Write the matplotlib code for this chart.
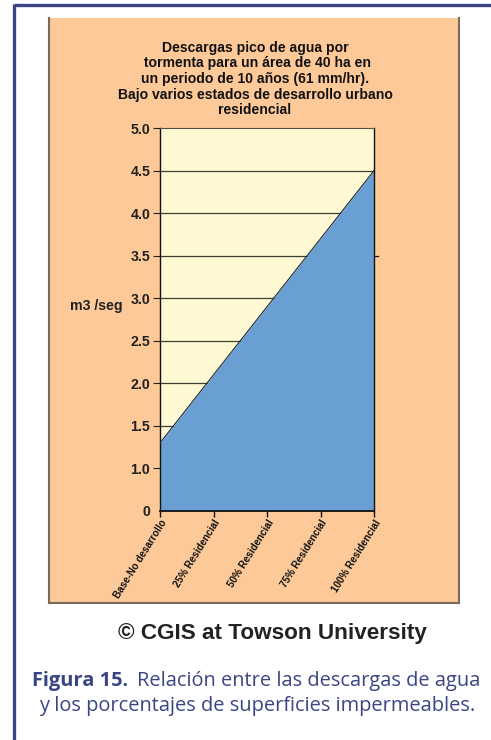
import matplotlib
matplotlib.use("Agg")
import matplotlib.pyplot as plt
from matplotlib.patches import Rectangle
from matplotlib.lines import Line2D

# Data
categories = ["Base-No desarrollo", "25% Residencial", "50% Residencial",
              "75% Residencial", "100% Residencial"]
discharge = [1.3, 2.1, 2.9, 3.7, 4.5]          # m3/seg
y_ticks = [0.5, 1.0, 1.5, 2.0, 2.5, 3.0, 3.5, 4.0, 4.5, 5.0]
y_tick_labels = ["0", "1.0", "1.5", "2.0", "2.5", "3.0", "3.5", "4.0", "4.5", "5.0"]
grid_levels = [1.5, 2.0, 2.5, 3.0, 3.5, 4.0, 4.5]

title = ("Descargas pico de agua por\n tormenta para un área de 40 ha en\n"
         "un periodo de 10 años (61 mm/hr).\nBajo varios estados de desarrollo urbano\n"
         "residencial")

W, H = 491, 740
NAVY = "#3a4583"
ORANGE = "#fdc998"
PALE = "#fff9d3"
BLUE = "#6a9fd4"
EDGE = "#7a6a5c"

plt.rcParams["font.family"] = ["Liberation Sans", "DejaVu Sans"]

fig = plt.figure(figsize=(W / 100, H / 100), dpi=100)
fig.patch.set_facecolor("white")


def fx(px):
    return px / W


def fy(py):
    return 1 - py / H


# Outer page frame (top and left rules)
fig.add_artist(Line2D([fx(14), fx(W)], [fy(5), fy(5)], color=NAVY, lw=2.4,
                      solid_capstyle="butt"))
fig.add_artist(Line2D([fx(14), fx(14)], [fy(4), fy(H)], color=NAVY, lw=2.4,
                      solid_capstyle="butt"))

# Orange chart panel with darker edges
px0, py0, px1, py1 = 49, 18, 459, 603
fig.add_artist(Rectangle((fx(px0), fy(py1)), fx(px1 - px0), py1 / H - py0 / H,
                         facecolor=ORANGE, edgecolor="none", zorder=0))
for xs, ys in [([px0, px0], [py0, py1]), ([px1, px1], [py0, py1]),
               ([px0, px1], [py1, py1])]:
    fig.add_artist(Line2D([fx(v) for v in xs], [fy(v) for v in ys],
                          color=EDGE, lw=1.5, zorder=1))

# Plot area
ax_l, ax_r, ax_t, ax_b = 160, 374, 128, 511
ax = fig.add_axes([fx(ax_l), fy(ax_b), fx(ax_r - ax_l), (ax_b - ax_t) / H])
ax.set_facecolor(PALE)
x = list(range(len(categories)))
ymin, ymax = 0.5, 5.0

for g in grid_levels:
    ax.axhline(g, color="#3e3e30", lw=0.9, zorder=1)

ax.fill_between(x, discharge, ymin, color=BLUE, lw=0, zorder=2)
ax.plot(x, discharge, color="#1c2a3a", lw=0.8, zorder=3)

ax.set_xlim(0, len(categories) - 1)
ax.set_ylim(ymin, ymax)

ax.set_yticks(y_ticks)
ax.set_yticklabels(y_tick_labels, fontsize=10.2, fontweight="bold")
ax.tick_params(axis="y", length=5, width=0.8, direction="out", pad=2, colors="#222222")
ax.yaxis.get_major_ticks()[0].tick1line.set_visible(False)

ax.set_xticks(x)
ax.set_xticklabels(categories, rotation=58, ha="right", va="top",
                   rotation_mode="anchor", fontsize=7.1, fontweight="bold")
ax.tick_params(axis="x", length=4, width=1.0, direction="out", pad=1, colors="#111111")

for side in ["left", "right", "bottom"]:
    ax.spines[side].set_color("#111111")
ax.spines["left"].set_linewidth(1.0)
ax.spines["right"].set_linewidth(1.0)
ax.spines["bottom"].set_linewidth(1.3)
ax.spines["top"].set_color("#555544")
ax.spines["top"].set_linewidth(0.8)

# small outward tick on the right axis at 3.5
ax.plot([1.0, 1.02], [3.5, 3.5], transform=ax.get_yaxis_transform(),
        color="#111111", lw=0.9, clip_on=False)

# Axis unit label
fig.text(fx(96), fy(306), "m3 /seg", ha="center", va="center",
         fontsize=10.2, fontweight="bold", color="#222222")

# Title
fig.text(fx(255), fy(79), title, ha="center", va="center",
         fontsize=10.1, fontweight="bold", color="#111111", linespacing=1.15)

# Credit line
fig.text(fx(272), fy(633), "© CGIS at Towson University", ha="center",
         va="center", fontsize=16.2, fontweight="bold", color="#222222")

# Figure caption
cap_font = ["Open Sans", "DejaVu Sans"]
cap_size = 14.4
t1 = fig.text(fx(32), fy(681), "Figura 15.", ha="left", va="center",
              fontsize=cap_size, fontweight="bold", color=NAVY, family=cap_font)
fig.canvas.draw()
bb = t1.get_window_extent()
fig.text(bb.x1 / W + fx(9), fy(681), "Relación entre las descargas de agua",
         ha="left", va="center", fontsize=cap_size, color=NAVY, family=cap_font)
fig.text(fx(257), fy(706), "y los porcentajes de superficies impermeables.",
         ha="center", va="center", fontsize=cap_size, color=NAVY, family=cap_font)

fig.savefig("out.png", dpi=100, facecolor="white")
